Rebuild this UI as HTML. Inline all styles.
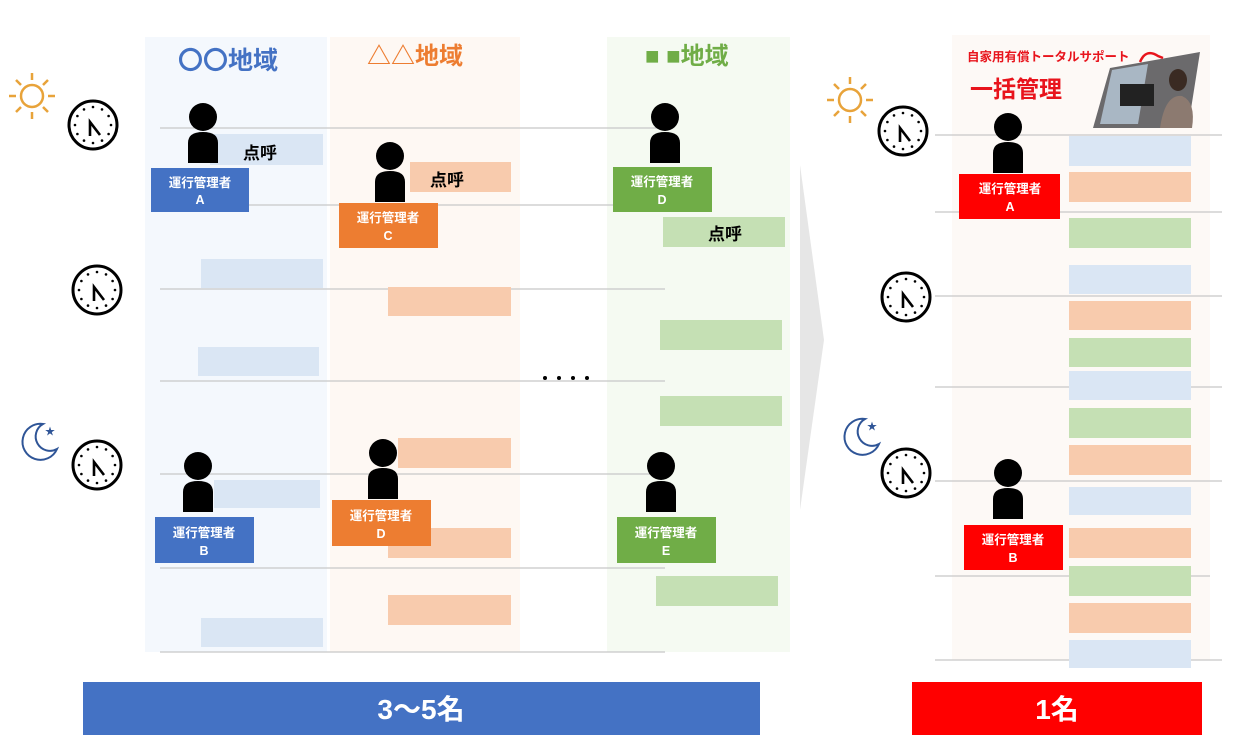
<!DOCTYPE html><html><head><meta charset="utf-8"><style>body{margin:0;background:#fff}svg{display:block}text{font-family:"Liberation Sans","Noto Sans CJK JP",sans-serif;font-weight:bold}</style></head><body>
<svg width="1240" height="751" viewBox="0 0 1240 751" xmlns="http://www.w3.org/2000/svg">
<defs>
<g id="clk"><circle r="24" fill="#fff" stroke="#000" stroke-width="3"/>
<g fill="#000"><circle cx="0" cy="-18" r="1.3"/><circle cx="9" cy="-15.6" r="1.3"/><circle cx="15.6" cy="-9" r="1.3"/><circle cx="18" cy="0" r="1.3"/><circle cx="15.6" cy="9" r="1.3"/><circle cx="9" cy="15.6" r="1.3"/><circle cx="0" cy="18" r="1.3"/><circle cx="-9" cy="15.6" r="1.3"/><circle cx="-15.6" cy="9" r="1.3"/><circle cx="-18" cy="0" r="1.3"/><circle cx="-15.6" cy="-9" r="1.3"/><circle cx="-9" cy="-15.6" r="1.3"/></g>
<path d="M-3 11 V-3 L7 10" fill="none" stroke="#000" stroke-width="2.6"/></g>
<g id="per"><circle cx="0" cy="0" r="14" fill="#000"/><path d="M-15 46 L-15 26 Q-15 15 0 15 Q15 15 15 26 L15 46Z" fill="#000"/></g>
<g id="sun" stroke="#e8a33a" stroke-width="2.5" fill="none"><circle r="11"/><path d="M0-16V-23M0 16V23M-16 0H-23M16 0H23M11-11L16-16M-11-11L-16-16M11 11L16 16M-11 11L-16 16"/></g>
<g id="moon"><path d="M6 -17 A18 18 0 1 0 20 8 A14 14 0 0 1 6 -17Z" fill="none" stroke="#2f5597" stroke-width="2"/><text x="8" y="-6" font-size="10" fill="#2f5597">★</text></g>
</defs>
<rect x="145" y="37" width="182" height="615" fill="#f4f8fd"/>
<rect x="330" y="37" width="190" height="615" fill="#fef8f3"/>
<rect x="607" y="37" width="183" height="615" fill="#f5faf2"/>
<rect x="952" y="35" width="258" height="625" fill="#fdf9f6"/>
<polygon points="800,165 824,340 800,510" fill="#e6e6e6"/>
<g stroke="#c8c8c8" stroke-width="1.2">
<line x1="160" y1="128" x2="665" y2="128"/><line x1="160" y1="205" x2="665" y2="205"/><line x1="160" y1="289" x2="665" y2="289"/><line x1="160" y1="381" x2="665" y2="381"/><line x1="160" y1="474" x2="665" y2="474"/><line x1="160" y1="568" x2="665" y2="568"/><line x1="160" y1="652" x2="665" y2="652"/>
<line x1="935" y1="135" x2="1222" y2="135"/><line x1="935" y1="212" x2="1222" y2="212"/><line x1="935" y1="296" x2="1222" y2="296"/><line x1="935" y1="387" x2="1222" y2="387"/><line x1="935" y1="481" x2="1222" y2="481"/><line x1="935" y1="576" x2="1210" y2="576"/><line x1="935" y1="660" x2="1222" y2="660"/></g>
<g fill="#dae6f4"><rect x="210" y="134" width="113" height="31"/><rect x="201" y="259" width="122" height="29"/><rect x="198" y="347" width="121" height="29"/><rect x="214" y="480" width="106" height="28"/><rect x="201" y="618" width="122" height="29"/></g>
<g fill="#f8cbad"><rect x="410" y="162" width="101" height="30"/><rect x="388" y="287" width="123" height="29"/><rect x="398" y="438" width="113" height="30"/><rect x="388" y="528" width="123" height="30"/><rect x="388" y="595" width="123" height="30"/></g>
<g fill="#c5e0b4"><rect x="663" y="217" width="122" height="30"/><rect x="660" y="320" width="122" height="30"/><rect x="660" y="396" width="122" height="30"/><rect x="656" y="576" width="122" height="30"/></g>
<g><rect x="1069" y="136" width="122" height="30" fill="#dae6f4"/><rect x="1069" y="172" width="122" height="30" fill="#f8cbad"/><rect x="1069" y="218" width="122" height="30" fill="#c5e0b4"/><rect x="1069" y="265" width="122" height="29" fill="#dae6f4"/><rect x="1069" y="301" width="122" height="29" fill="#f8cbad"/><rect x="1069" y="338" width="122" height="29" fill="#c5e0b4"/><rect x="1069" y="371" width="122" height="29" fill="#dae6f4"/><rect x="1069" y="408" width="122" height="30" fill="#c5e0b4"/><rect x="1069" y="445" width="122" height="30" fill="#f8cbad"/><rect x="1069" y="487" width="122" height="28" fill="#dae6f4"/><rect x="1069" y="528" width="122" height="30" fill="#f8cbad"/><rect x="1069" y="566" width="122" height="30" fill="#c5e0b4"/><rect x="1069" y="603" width="122" height="30" fill="#f8cbad"/><rect x="1069" y="640" width="122" height="28" fill="#dae6f4"/></g>
<g font-size="17" fill="#000"><text x="243" y="159">点呼</text><text x="430" y="186">点呼</text><text x="708" y="240">点呼</text></g>
<text x="178" y="69" font-size="25" fill="#4472c4">〇〇地域</text>
<text x="367" y="64" font-size="24" fill="#ed7d31">△△地域</text>
<text x="645" y="64" font-size="24" fill="#70ad47">■ ■地域</text>
<g fill="#000"><circle cx="545" cy="378" r="2"/><circle cx="559" cy="378" r="2"/><circle cx="573" cy="378" r="2"/><circle cx="587" cy="378" r="2"/></g>
<use href="#per" x="203" y="117"/><use href="#per" x="390" y="156"/><use href="#per" x="665" y="117"/><use href="#per" x="198" y="466"/><use href="#per" x="383" y="453"/><use href="#per" x="661" y="466"/><use href="#per" x="1008" y="127"/><use href="#per" x="1008" y="473"/>
<g font-size="12.5" fill="#fff" text-anchor="middle">
<rect x="151" y="168" width="98" height="44" fill="#4472c4"/><text x="200" y="187">運行管理者</text><text x="200" y="204">A</text>
<rect x="339" y="203" width="99" height="45" fill="#ed7d31"/><text x="388" y="222">運行管理者</text><text x="388" y="240">C</text>
<rect x="613" y="167" width="99" height="45" fill="#70ad47"/><text x="662" y="186">運行管理者</text><text x="662" y="204">D</text>
<rect x="155" y="517" width="99" height="46" fill="#4472c4"/><text x="204" y="537">運行管理者</text><text x="204" y="555">B</text>
<rect x="332" y="500" width="99" height="46" fill="#ed7d31"/><text x="381" y="520">運行管理者</text><text x="381" y="538">D</text>
<rect x="617" y="517" width="99" height="46" fill="#70ad47"/><text x="666" y="537">運行管理者</text><text x="666" y="555">E</text>
<rect x="959" y="174" width="101" height="45" fill="#ff0000"/><text x="1010" y="193">運行管理者</text><text x="1010" y="211">A</text>
<rect x="964" y="525" width="99" height="45" fill="#ff0000"/><text x="1013" y="544">運行管理者</text><text x="1013" y="562">B</text></g>
<use href="#sun" x="32" y="96"/><use href="#sun" x="850" y="100"/>
<use href="#moon" x="37" y="441"/><use href="#moon" x="859" y="436"/>
<use href="#clk" x="93" y="125"/><use href="#clk" x="97" y="290"/><use href="#clk" x="97" y="465"/>
<use href="#clk" x="903" y="131"/><use href="#clk" x="906" y="297"/><use href="#clk" x="906" y="473"/>
<polygon points="1110,68 1200,52 1188,128 1093,128" fill="#6b6a6c"/>
<polygon points="1112,70 1148,64 1138,124 1100,124" fill="#a9b7c4"/>
<rect x="1120" y="84" width="34" height="22" fill="#222"/>
<ellipse cx="1178" cy="80" rx="9" ry="11" fill="#3a2a22"/>
<path d="M1160 128 Q1165 94 1182 96 Q1196 102 1192 128Z" fill="#8c7a70"/>
<text x="967" y="61" font-size="12.5" fill="#e8141c">自家用有償トータルサポート</text>
<path d="M1140 62 Q1146 48 1158 56 L1163 58" stroke="#e8141c" stroke-width="2.5" fill="none"/>
<text x="970" y="97" font-size="23" fill="#e8141c">一括管理</text>
<rect x="83" y="682" width="677" height="53" fill="#4472c4"/>
<text x="421" y="719" font-size="28" fill="#fff" text-anchor="middle">3～5名</text>
<rect x="912" y="682" width="290" height="53" fill="#ff0000"/>
<text x="1057" y="719" font-size="28" fill="#fff" text-anchor="middle">1名</text>
</svg></body></html>
